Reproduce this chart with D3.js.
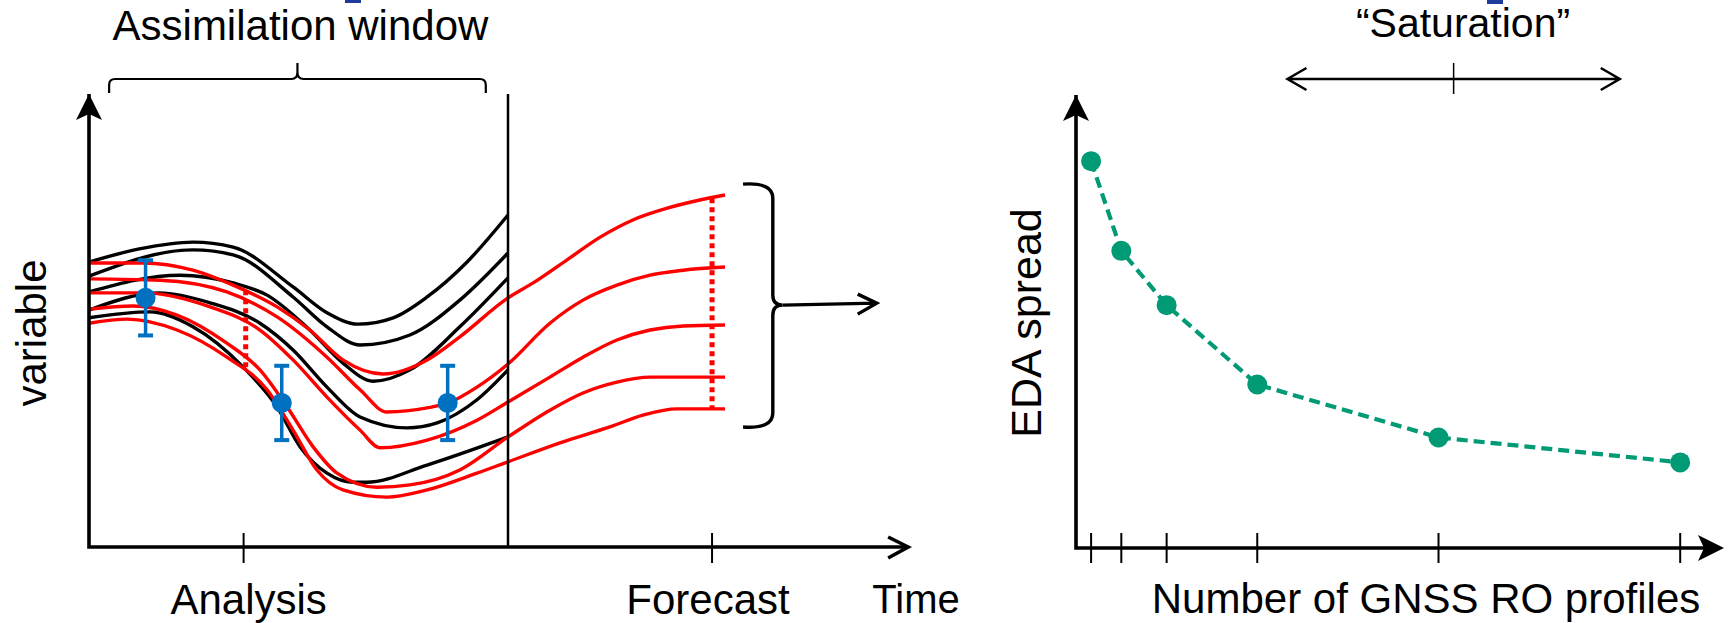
<!DOCTYPE html>
<html>
<head>
<meta charset="utf-8">
<script src="https://cdn.jsdelivr.net/npm/d3@7"></script>
<style>
  body { margin: 0; background: #fff; }
  svg { display: block; }
  text { font-family: "Liberation Sans", Arial, sans-serif; fill: #000; }
</style>
</head>
<body>
<svg id="chart" width="1733" height="623"></svg>
<script>
// ---- left panel: schematic of the assimilation window (time vs variable, arbitrary units)
// background trajectories (black), [time, value]
const backgroundRuns = [
  [[0, 6.29], [1.2, 6.58], [2.48, 6.73], [3.44, 6.62], [4.87, 5.74], [5.68, 5.17], [6.42, 4.92], [7.26, 5.06], [8.07, 5.52], [9.0, 6.27], [10, 7.33]],
  [[0, 5.98], [2.48, 6.56], [3.44, 6.45], [4.87, 5.52], [5.68, 4.86], [6.47, 4.46], [7.66, 4.68], [8.85, 5.45], [10, 6.49]],
  [[0, 5.63], [2.17, 6.00], [3.44, 5.83], [4.25, 5.56], [5.27, 4.79], [6.06, 4.06], [6.78, 3.66], [7.66, 3.91], [8.85, 4.86], [10, 5.94]],
  [[0, 5.23], [1.69, 5.61], [2.89, 5.39], [4.08, 4.94], [4.87, 4.35], [5.68, 3.53], [6.47, 2.87], [7.59, 2.63], [8.31, 2.74], [9.26, 3.25], [10, 3.91]],
  [[0, 5.06], [1.46, 5.19], [2.48, 4.86], [3.68, 3.97], [4.49, 3.09], [5.04, 2.21], [5.68, 1.63], [6.30, 1.43], [6.63, 1.43], [8.07, 1.81], [10, 2.43]]
];

// ensemble members (red), through the window and into the forecast
const ensembleRuns = [
  [[0, 6.27], [1.29, 6.27], [2.48, 6.11], [3.44, 5.78], [4.49, 5.30], [5.27, 4.79], [6.06, 4.13], [7.02, 3.82], [8.07, 4.13], [8.85, 4.64], [10, 5.50], [10.6, 5.83], [11.41, 6.34], [12.2, 6.84], [12.98, 7.22], [13.8, 7.48], [14.58, 7.66], [15.18, 7.77]],
  [[0, 5.92], [1.69, 5.89], [3.29, 5.63], [4.49, 5.08], [5.68, 4.19], [6.47, 3.47], [7.11, 2.98], [8.07, 3.07], [8.57, 3.18], [9.26, 3.53], [10, 4.04], [11.0, 4.94], [11.79, 5.45], [12.6, 5.78], [13.39, 6.00], [14.18, 6.11], [15.18, 6.18]],
  [[0, 5.61], [1.29, 5.61], [2.89, 5.30], [4.08, 4.79], [4.87, 4.13], [5.68, 3.31], [6.47, 2.58], [6.95, 2.19], [8.07, 2.36], [9.26, 2.80], [10, 3.20], [11.0, 3.75], [11.79, 4.19], [12.6, 4.57], [13.39, 4.79], [14.18, 4.88], [15.18, 4.90]],
  [[0, 5.25], [1.05, 5.32], [2.10, 5.12], [3.29, 4.50], [4.08, 3.91], [4.73, 3.09], [5.35, 2.21], [5.92, 1.63], [6.87, 1.32], [7.66, 1.37], [8.85, 1.70], [10, 2.43], [11.0, 3.02], [11.79, 3.40], [12.6, 3.64], [13.39, 3.75], [15.18, 3.75]],
  [[0, 4.94], [0.91, 5.03], [2.10, 4.79], [3.29, 4.19], [4.25, 3.47], [4.87, 2.58], [5.44, 1.70], [6.06, 1.26], [7.11, 1.10], [8.07, 1.26], [9.26, 1.63], [10, 1.88], [11.24, 2.30], [12.43, 2.65], [13.22, 2.91], [14.03, 3.05], [15.18, 3.05]]
];

const observations = [
  { t: 1.35, v: 5.50, err: 0.83 },
  { t: 4.60, v: 3.18, err: 0.82 },
  { t: 8.56, v: 3.18, err: 0.82 }
];

// dotted spread markers at analysis and forecast time
const spreads = [
  { t: 3.74, lo: 3.97, hi: 5.67 },
  { t: 14.87, lo: 3.05, hi: 7.70 }
];

const timeTicks = [3.69, 14.87];
const timeLabels = ["Analysis", "Forecast"];
const windowEnd = 10;

// ---- right panel: EDA spread vs number of profiles
const profileCounts = [1, 3, 6, 12, 24, 40];
const edaSpread = [8.54, 6.56, 5.36, 3.61, 2.44, 1.89];
const saturation = { from: 14, mid: 25, to: 36 };

const svg = d3.select("#chart");

const xL = d3.scaleLinear().domain([0, 20]).range([89, 927]);
const yL = d3.scaleLinear().domain([0, 10]).range([547, 94]);
const xR = d3.scaleLinear().domain([0, 42.9]).range([1076, 1724]);
const yR = d3.scaleLinear().domain([0, 10]).range([548, 95]);

// little bits of a cut off title at the very top
svg.append("rect").attr("x", 345).attr("y", 0).attr("width", 16).attr("height", 3).attr("fill", "#1f3c9c");
svg.append("rect").attr("x", 1487).attr("y", 0).attr("width", 16).attr("height", 4).attr("fill", "#1f3c9c");

// ================= left panel
let gl = svg.append("g");

let line = d3.line()
  .x(function (d) { return xL(d[0]); })
  .y(function (d) { return yL(d[1]); })
  .curve(d3.curveMonotoneX);

gl.selectAll(".bg")
  .data(backgroundRuns)
  .enter().append("path")
  .attr("class", "bg")
  .attr("d", line)
  .attr("fill", "none")
  .attr("stroke", "#000")
  .attr("stroke-width", 3.4);

gl.selectAll(".ens")
  .data(ensembleRuns)
  .enter().append("path")
  .attr("class", "ens")
  .attr("d", line)
  .attr("fill", "none")
  .attr("stroke", "#ff0000")
  .attr("stroke-width", 3.4);

gl.selectAll(".spread")
  .data(spreads)
  .enter().append("line")
  .attr("class", "spread")
  .attr("x1", function (d) { return xL(d.t); })
  .attr("x2", function (d) { return xL(d.t); })
  .attr("y1", function (d) { return yL(d.hi); })
  .attr("y2", function (d) { return yL(d.lo); })
  .attr("stroke", "#ff0000")
  .attr("stroke-width", 5)
  .attr("stroke-dasharray", "5,4");

// end of assimilation window
gl.append("line")
  .attr("x1", xL(windowEnd)).attr("x2", xL(windowEnd))
  .attr("y1", yL(0)).attr("y2", yL(10))
  .attr("stroke", "#000").attr("stroke-width", 2.5);

// observations with error bars
let obs = gl.selectAll(".obs")
  .data(observations)
  .enter().append("g")
  .attr("class", "obs");

obs.append("line")
  .attr("x1", function (d) { return xL(d.t); })
  .attr("x2", function (d) { return xL(d.t); })
  .attr("y1", function (d) { return yL(d.v + d.err); })
  .attr("y2", function (d) { return yL(d.v - d.err); })
  .attr("stroke", "#0070c0").attr("stroke-width", 3.5);

[1, -1].forEach(function (s) {
  obs.append("line")
    .attr("x1", function (d) { return xL(d.t) - 7.5; })
    .attr("x2", function (d) { return xL(d.t) + 7.5; })
    .attr("y1", function (d) { return yL(d.v + s * d.err); })
    .attr("y2", function (d) { return yL(d.v + s * d.err); })
    .attr("stroke", "#0070c0").attr("stroke-width", 4);
});

obs.append("circle")
  .attr("cx", function (d) { return xL(d.t); })
  .attr("cy", function (d) { return yL(d.v); })
  .attr("r", 10)
  .attr("fill", "#0070c0");

// axes
let xEnd = xL(19.55);
gl.append("path")
  .attr("d", "M" + xL(0) + "," + yL(10) + "V" + yL(0) + "H" + xEnd)
  .attr("fill", "none").attr("stroke", "#000").attr("stroke-width", 3.6);

gl.append("path")
  .attr("d", "M" + xL(0) + "," + yL(10) + "l-13,26l13,-6l13,6z")
  .attr("fill", "#000");

gl.append("path")
  .attr("d", "M" + (xEnd - 20) + "," + (yL(0) - 10) + "L" + xEnd + "," + yL(0) + "L" + (xEnd - 20) + "," + (yL(0) + 11))
  .attr("fill", "none").attr("stroke", "#000").attr("stroke-width", 3.6);

gl.selectAll(".tick")
  .data(timeTicks)
  .enter().append("line")
  .attr("class", "tick")
  .attr("x1", function (d) { return xL(d); })
  .attr("x2", function (d) { return xL(d); })
  .attr("y1", yL(0) - 14)
  .attr("y2", yL(0) + 16)
  .attr("stroke", "#000").attr("stroke-width", 2);

gl.selectAll(".tlabel")
  .data(timeLabels)
  .enter().append("text")
  .attr("class", "tlabel")
  .attr("x", function (d, i) { return xL(timeTicks[i]) + (i === 0 ? 5 : -4); })
  .attr("y", 614)
  .attr("text-anchor", "middle")
  .attr("font-size", 42)
  .text(function (d) { return d; });

gl.append("text")
  .attr("x", 916).attr("y", 613)
  .attr("text-anchor", "middle")
  .attr("font-size", 40)
  .text("Time");

gl.append("text")
  .attr("transform", "translate(46,333) rotate(-90)")
  .attr("text-anchor", "middle")
  .attr("font-size", 42)
  .text("variable");

// assimilation window brace
let bx0 = xL(0.48), bx1 = xL(9.47), bm = (bx0 + bx1) / 2;
gl.append("path")
  .attr("d", "M" + bx0 + ",93 L" + bx0 + ",85 Q" + bx0 + ",79 " + (bx0 + 6) + ",79 L" + (bm - 6) + ",79 Q" + bm + ",79 " + bm + ",72 L" + bm + ",63 " +
    "M" + bm + ",72 Q" + bm + ",79 " + (bm + 6) + ",79 L" + (bx1 - 6) + ",79 Q" + bx1 + ",79 " + bx1 + ",85 L" + bx1 + ",93")
  .attr("fill", "none").attr("stroke", "#000").attr("stroke-width", 2.2);

gl.append("text")
  .attr("x", bm + 3).attr("y", 40)
  .attr("text-anchor", "middle")
  .attr("font-size", 42)
  .text("Assimilation window");

// forecast spread brace and arrow
let fx0 = xL(15.61), fx1 = xL(16.32), ftip = xL(16.55);
let fyTop = yL(8.01), fyBot = yL(2.65), fyMid = yL(5.34);
gl.append("path")
  .attr("d", "M" + fx0 + "," + fyTop + " Q" + fx1 + "," + (fyTop - 2) + " " + fx1 + "," + (fyTop + 14) +
    " L" + fx1 + "," + (fyMid - 10) + " Q" + fx1 + "," + fyMid + " " + ftip + "," + fyMid +
    " Q" + fx1 + "," + fyMid + " " + fx1 + "," + (fyMid + 10) +
    " L" + fx1 + "," + (fyBot - 14) + " Q" + fx1 + "," + (fyBot + 2) + " " + fx0 + "," + fyBot)
  .attr("fill", "none").attr("stroke", "#000").attr("stroke-width", 3.4);

let ax1 = xL(18.8);
gl.append("path")
  .attr("d", "M" + ftip + "," + fyMid + " L" + ax1 + "," + (fyMid - 2) +
    " M" + (ax1 - 19) + "," + (fyMid - 11) + " L" + ax1 + "," + (fyMid - 2) + " L" + (ax1 - 19) + "," + (fyMid + 9))
  .attr("fill", "none").attr("stroke", "#000").attr("stroke-width", 3.4);

// ================= right panel
let gr = svg.append("g");

let pts = profileCounts.map(function (c, i) { return [c, edaSpread[i]]; });

gr.append("path")
  .datum(pts)
  .attr("d", d3.line().x(function (d) { return xR(d[0]); }).y(function (d) { return yR(d[1]); }))
  .attr("fill", "none")
  .attr("stroke", "#009a74")
  .attr("stroke-width", 4.2)
  .attr("stroke-dasharray", "11,6");

gr.selectAll(".dot")
  .data(pts)
  .enter().append("circle")
  .attr("class", "dot")
  .attr("cx", function (d) { return xR(d[0]); })
  .attr("cy", function (d) { return yR(d[1]); })
  .attr("r", 10)
  .attr("fill", "#009a74");

let rEnd = xR(42.9);
gr.append("path")
  .attr("d", "M" + xR(0) + "," + yR(10) + "V" + yR(0) + "H" + (rEnd - 10))
  .attr("fill", "none").attr("stroke", "#000").attr("stroke-width", 3.6);

gr.append("path")
  .attr("d", "M" + xR(0) + "," + yR(10) + "l-13,26l13,-6l13,6z")
  .attr("fill", "#000");

gr.append("path")
  .attr("d", "M" + rEnd + "," + yR(0) + "l-26,-13l6,13l-6,13z")
  .attr("fill", "#000");

gr.selectAll(".rtick")
  .data(profileCounts)
  .enter().append("line")
  .attr("class", "rtick")
  .attr("x1", function (d) { return xR(d); })
  .attr("x2", function (d) { return xR(d); })
  .attr("y1", yR(0) - 15)
  .attr("y2", yR(0) + 15)
  .attr("stroke", "#000").attr("stroke-width", 2);

gr.append("text")
  .attr("x", 1426).attr("y", 613)
  .attr("text-anchor", "middle")
  .attr("font-size", 42)
  .text("Number of GNSS RO profiles");

gr.append("text")
  .attr("transform", "translate(1041,323) rotate(-90)")
  .attr("text-anchor", "middle")
  .attr("font-size", 43)
  .text("EDA spread");

// saturation double arrow
let sy = 79;
gr.append("path")
  .attr("d", "M" + xR(saturation.from) + "," + sy + " H" + xR(saturation.to) +
    " M" + (xR(saturation.from) + 19) + "," + (sy - 11) + " L" + xR(saturation.from) + "," + sy + " L" + (xR(saturation.from) + 19) + "," + (sy + 11) +
    " M" + (xR(saturation.to) - 19) + "," + (sy - 11) + " L" + xR(saturation.to) + "," + sy + " L" + (xR(saturation.to) - 19) + "," + (sy + 11))
  .attr("fill", "none").attr("stroke", "#000").attr("stroke-width", 2.5);

gr.append("line")
  .attr("x1", xR(saturation.mid)).attr("x2", xR(saturation.mid))
  .attr("y1", sy - 16).attr("y2", sy + 15)
  .attr("stroke", "#000").attr("stroke-width", 1.5);

gr.append("text")
  .attr("x", 1463).attr("y", 37)
  .attr("text-anchor", "middle")
  .attr("font-size", 41)
  .text("\u201CSaturation\u201D");
</script>
</body>
</html>
